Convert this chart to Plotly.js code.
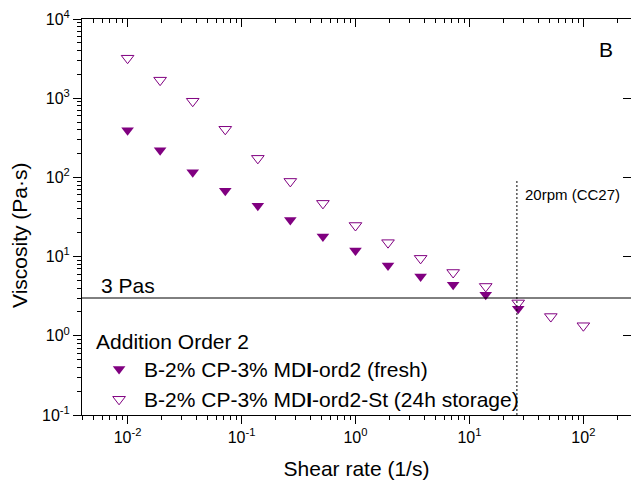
<!DOCTYPE html>
<html><head><meta charset="utf-8">
<script src="https://cdn.plot.ly/plotly-3.0.1.min.js"></script>
<style>html,body{margin:0;padding:0;background:#fff;}#chart{width:631px;height:482px;}</style>
</head><body><div id="chart"></div>
<script>
// Data
const freshShear = [0.01, 0.0193, 0.0373, 0.072, 0.139, 0.268, 0.518, 1.0, 1.93, 3.73, 7.2, 13.9, 26.8];
const freshVisc  = [394, 220, 116, 68, 44, 29, 18, 11.9, 7.7, 5.6, 4.4, 3.3, 2.2];
const storShear  = [0.01, 0.0193, 0.0373, 0.072, 0.139, 0.268, 0.518, 1.0, 1.93, 3.73, 7.2, 13.9, 26.8, 51.8, 100];
const storVisc   = [3200, 1690, 916, 405, 174, 89, 47, 24.7, 15, 9.5, 6.3, 4.2, 2.6, 1.75, 1.34];
const seriesNames = ['B-2% CP-3% MD<b>I</b>-ord2 (fresh)', 'B-2% CP-3% MD<b>I</b>-ord2-St (24h storage)'];
const legendTitle = 'Addition Order 2';
const yTitle = 'Viscosity (Pa·s)';
const xTitle = 'Shear rate (1/s)';
const thresholdVisc = 3;          // "3 Pas" line
const rpmShear = 26.1;            // 20rpm (CC27) line
const rpmLineTop = 95;
const xTickVals = [0.01, 0.1, 1, 10, 100];
const xTickText = ['10<sup>-2</sup>', '10<sup>-1</sup>', '10<sup>0</sup>', '10<sup>1</sup>', '10<sup>2</sup>'];
const yTickVals = [0.1, 1, 10, 100, 1000, 10000];
const yTickText = ['10<sup>-1</sup>', '10<sup>0</sup>', '10<sup>1</sup>', '10<sup>2</sup>', '10<sup>3</sup>', '10<sup>4</sup>'];

const FONT = 'Liberation Sans, Arial, sans-serif';
const PURPLE = '#800080';
const XR = [-2.4, 2.418], YR = [-1, 4];

const traces = [
  {x: freshShear, y: freshVisc, name: seriesNames[0], mode: 'markers', type: 'scatter',
   marker: {symbol: 'triangle-down', size: 11, color: PURPLE, line: {width: 0}}},
  {x: storShear, y: storVisc, name: seriesNames[1], mode: 'markers', type: 'scatter',
   marker: {symbol: 'triangle-down-open', size: 11, color: PURPLE, line: {width: 1, color: PURPLE}}},
  {x: [], y: [], xaxis: 'x2', yaxis: 'y2', showlegend: false, hoverinfo: 'skip', type: 'scatter'}
];

const axBase = {type: 'log', showgrid: false, zeroline: false, showline: true, linecolor: '#000', linewidth: 1,
  tickmode: 'array', tickcolor: '#000', ticklen: 8, tickwidth: 1};

const layout = {
  width: 631, height: 482,
  margin: {l: 82, r: 0, t: 19, b: 67},
  paper_bgcolor: '#fff', plot_bgcolor: '#fff',
  font: {family: FONT, color: '#000', size: 16},
  showlegend: true,
  xaxis: Object.assign({}, axBase, {range: XR, tickvals: xTickVals, ticktext: xTickText, ticks: 'outside',
    tickfont: {size: 16, family: FONT},
    minor: {ticks: 'outside', ticklen: 4, dtick: 'D1', tickcolor: '#000'},
    title: {text: xTitle, font: {size: 21, family: FONT}, standoff: 16}}),
  yaxis: Object.assign({}, axBase, {range: YR, tickvals: yTickVals, ticktext: yTickText, ticks: 'outside',
    tickfont: {size: 16, family: FONT},
    minor: {ticks: 'outside', ticklen: 4, dtick: 'D1', tickcolor: '#000'}}),
  xaxis2: Object.assign({}, axBase, {range: XR, tickvals: xTickVals, overlaying: 'x', side: 'top', anchor: 'y2',
    ticks: 'inside', showticklabels: false,
    minor: {ticks: 'inside', ticklen: 4, dtick: 'D1', tickcolor: '#000'}}),
  yaxis2: Object.assign({}, axBase, {range: YR, tickvals: yTickVals, overlaying: 'y', side: 'right', anchor: 'x2',
    ticks: 'inside', showticklabels: false}),
  legend: {x: 0.022, y: 0.236, xanchor: 'left', yanchor: 'top', bgcolor: 'rgba(0,0,0,0)',
    font: {size: 21, family: FONT}, title: {text: legendTitle, font: {size: 21, family: FONT}},
    itemwidth: 40, tracegroupgap: 0},
  shapes: [
    {type: 'line', xref: 'paper', x0: 0, x1: 1, yref: 'y', y0: thresholdVisc, y1: thresholdVisc,
     line: {color: '#000', width: 1}},
    {type: 'line', xref: 'x', x0: rpmShear, x1: rpmShear, yref: 'y', y0: 0.1, y1: rpmLineTop,
     line: {color: '#000', width: 1, dash: '2px,2px'}}
  ],
  annotations: [
    {text: yTitle, xref: 'paper', yref: 'paper', x: -0.1148, y: 0.4545, xanchor: 'center', yanchor: 'middle',
     textangle: -90, showarrow: false, font: {size: 21, family: FONT}},
    {text: 'B', xref: 'paper', yref: 'paper', x: 0.954, y: 0.922, xanchor: 'center', yanchor: 'middle',
     showarrow: false, font: {size: 21, family: FONT}},
    {text: '20rpm (CC27)', xref: 'paper', yref: 'paper', x: 0.803, y: 0.558, xanchor: 'left', yanchor: 'middle',
     showarrow: false, font: {size: 15, family: FONT}},
    {text: '3 Pas', xref: 'paper', yref: 'paper', x: 0.031, y: 0.328, xanchor: 'left', yanchor: 'middle',
     showarrow: false, font: {size: 21, family: FONT}}
  ]
};

Plotly.newPlot('chart', traces, layout, {displayModeBar: false, staticPlot: true});
</script></body></html>
